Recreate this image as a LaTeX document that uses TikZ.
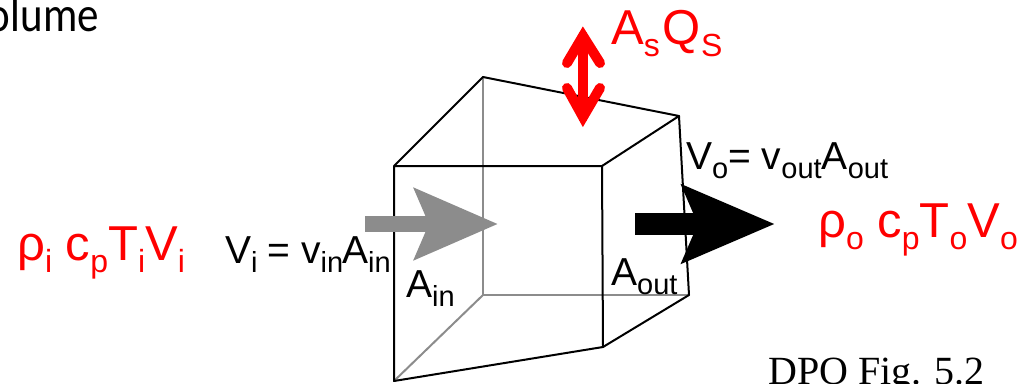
\documentclass[tikz,border=0pt]{standalone}
\usepackage{xcolor}
\usepackage{fontspec}
\setmainfont{Liberation Sans}
\newfontfamily\serifface{Liberation Serif}
\newfontfamily\titleface{Carlito}
\usetikzlibrary{
  arrows.meta
}
\definecolor{FlowRed}{HTML}{FF0000}
\definecolor{BackGray}{HTML}{8C8C8C}
\newcommand{\lowtext}[1]{\raisebox{-9pt}{\fontsize{29}{29}\selectfont #1}}
\newcommand{\lowred}[1]{\raisebox{-12pt}{\fontsize{32}{32}\selectfont #1}}
\tikzset{
  ratelabel/.style={
    inner sep=0pt,
    anchor=base west,
    font=\fontsize{39}{39}\selectfont
  },
  redlabel/.style={
    inner sep=0pt,
    anchor=base west,
    text=FlowRed,
    font=\fontsize{49}{49}\selectfont
  },
  boxedge/.style={
    line width=2pt,
    line join=round,
    line cap=round
  },
  backedge/.style={
    boxedge,
    draw=BackGray
  },
  inflow/.style={
    line width=16pt,
    draw=BackGray,
    -{Stealth[length=83pt,width=70pt,inset=14pt]}
  },
  outflow/.style={
    line width=22pt,
    draw=black,
    -{Stealth[length=92pt,width=76pt,inset=15pt]}
  },
  barb/.style={
    line width=10pt,
    draw=FlowRed,
    line cap=round,
    miter limit=10
  }
}

\begin{document}
\begin{tikzpicture}[
  x=1pt,
  y=-1pt
]

  \useasboundingbox (0,0) rectangle (1030,383);

  % corners of the volume
  \coordinate (frontTL) at (394,166);
  \coordinate (frontTR) at (602,166);
  \coordinate (frontBR) at (603,347);
  \coordinate (frontBL) at (394,381);
  \coordinate (backTL) at (483,77);
  \coordinate (backTR) at (679,116);
  \coordinate (backBR) at (689,295);
  \coordinate (backBL) at (483,295);

  \draw[backedge] (backTL) -- (backBL) -- (backBR);
  \draw[backedge] (backBL) -- (frontBL);
  \draw[boxedge] (frontTL) -- (frontTR) -- (frontBR) -- (frontBL) -- cycle;
  \draw[boxedge] (frontTL) -- (backTL) -- (backTR) -- (frontTR);
  \draw[boxedge] (backTR) -- (backBR) -- (frontBR);

  % flows
  \coordinate (inStart) at (365,224);
  \coordinate (inEnd) at (498,224);
  \coordinate (outStart) at (635,224);
  \coordinate (outEnd) at (775,224);
  \draw[inflow] (inStart) -- (inEnd);
  \draw[outflow] (outStart) -- (outEnd);

  % surface exchange
  \coordinate (upTip) at (583,36);
  \coordinate (downTip) at (583,117);
  \coordinate (upLeft) at (567,63);
  \coordinate (upRight) at (600,63);
  \coordinate (downLeft) at (567,88);
  \coordinate (downRight) at (600,88);
  \draw[barb] (upTip) -- (downTip);
  \draw[barb] (upLeft) -- (upTip) -- (upRight);
  \draw[barb] (downLeft) -- (downTip) -- (downRight);

  % texts
  \node[redlabel] (surface) at (611,44) {A\lowred{s}\hspace{3pt}Q\lowred{S}};
  \node[redlabel] (influx) at (17,260) {ρ\lowred{i} c\lowred{p}T\lowred{i}V\lowred{i}};
  \node[redlabel] (outflux) at (818,237) {ρ\lowred{o} c\lowred{p}T\lowred{o}V\lowred{o}};
  \node[ratelabel] (inrate) at (225,263) {V\lowtext{i}\hspace{-1pt} = v\lowtext{in}\hspace{-1pt}A\lowtext{in}};
  \node[ratelabel] (outrate) at (686,169) {V\lowtext{o}= v\lowtext{out}A\lowtext{out}};
  \node[ratelabel] (inarea) at (406,297) {A\lowtext{in}};
  \node[ratelabel] (outarea) at (611,285) {A\lowtext{out}};
  \node[inner sep=0pt, anchor=base east, font=\titleface\fontsize{43}{43}\selectfont] (heading) at (99,31) {\scalebox{1}[1.15]{olume}};
  \node[inner sep=0pt, anchor=base west, font=\serifface\fontsize{40}{40}\selectfont] (source) at (768,384) {DPO Fig. 5.2};

\end{tikzpicture}
\end{document}
